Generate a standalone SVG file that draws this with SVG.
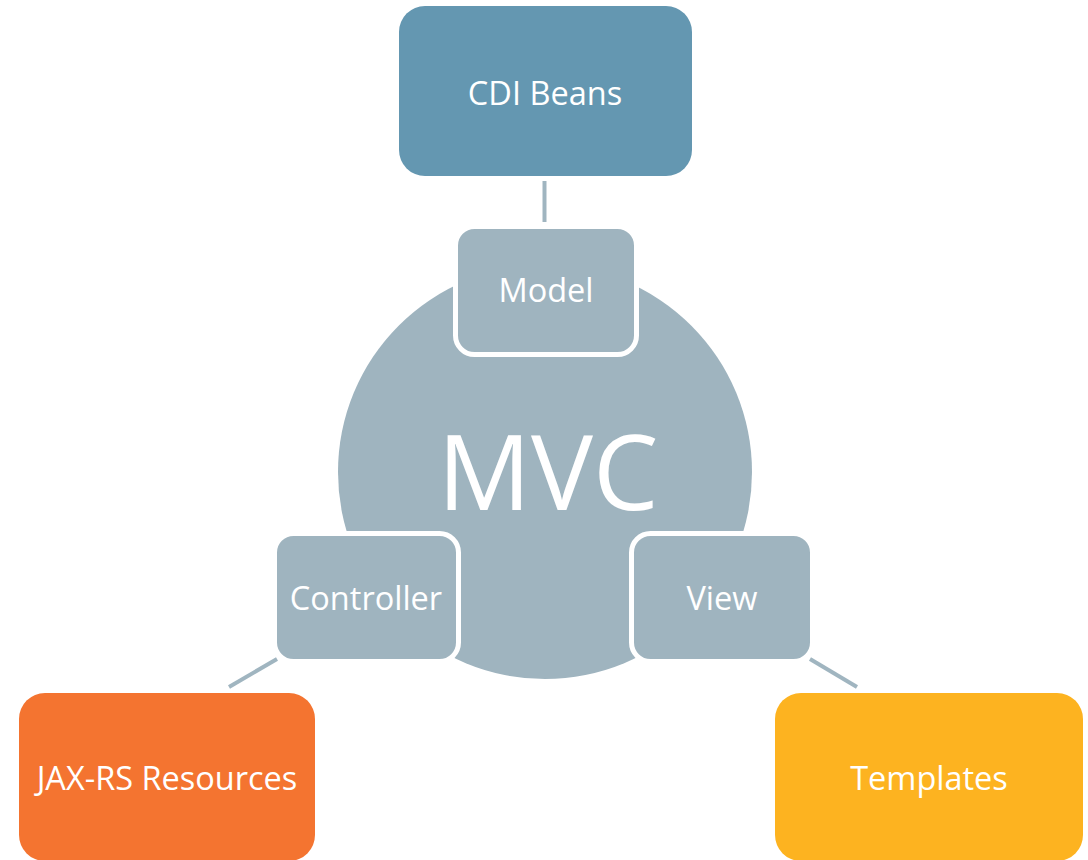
<svg xmlns="http://www.w3.org/2000/svg" width="1088" height="860" viewBox="0 0 1088 860">
  <style>
    .link { stroke: #A0B5C0; stroke-width: 4; fill: none; }
    .part { fill: #9FB4BF; stroke: #FFFFFF; stroke-width: 5; }
    .label { font-family: "Open Sans", "Noto Sans", sans-serif; font-size: 32.5px; fill: #FFFFFF; text-anchor: middle; }
    .big { font-family: "Open Sans", "Noto Sans", sans-serif; font-size: 104px; fill: #FFFFFF; text-anchor: middle; }
  </style>
  <rect width="1088" height="860" fill="#FFFFFF"/>

  <!-- connectors between the MVC parts and their technologies -->
  <g id="connectors">
    <line class="link" x1="544.5" y1="181" x2="544.5" y2="222"/>
    <line class="link" x1="277" y1="659" x2="229" y2="687"/>
    <line class="link" x1="810" y1="659" x2="857" y2="687"/>
  </g>

  <g id="mvc">
    <circle cx="545" cy="472" r="207" fill="#9FB4BF"/>
    <text class="big" x="548" y="510">MVC</text>
  </g>

  <g id="cdi-beans">
    <rect x="399" y="6" width="293" height="170" rx="26" fill="#6497B1"/>
    <text class="label" x="545" y="105">CDI Beans</text>
  </g>

  <g id="model">
    <rect class="part" x="455.5" y="226.5" width="181" height="128" rx="19"/>
    <text class="label" x="546" y="302">Model</text>
  </g>

  <g id="controller">
    <rect class="part" x="274.5" y="533.5" width="184" height="128" rx="19"/>
    <text class="label" x="366" y="610">Controller</text>
  </g>

  <g id="view">
    <rect class="part" x="631.5" y="533.5" width="181" height="128" rx="19"/>
    <text class="label" x="722" y="610">View</text>
  </g>

  <g id="jax-rs">
    <rect x="19" y="693" width="296" height="168" rx="26" fill="#F47430"/>
    <text class="label" x="167" y="790">JAX-RS Resources</text>
  </g>

  <g id="templates">
    <rect x="775" y="693" width="308" height="168" rx="26" fill="#FDB320"/>
    <text class="label" x="929" y="790">Templates</text>
  </g>
</svg>
